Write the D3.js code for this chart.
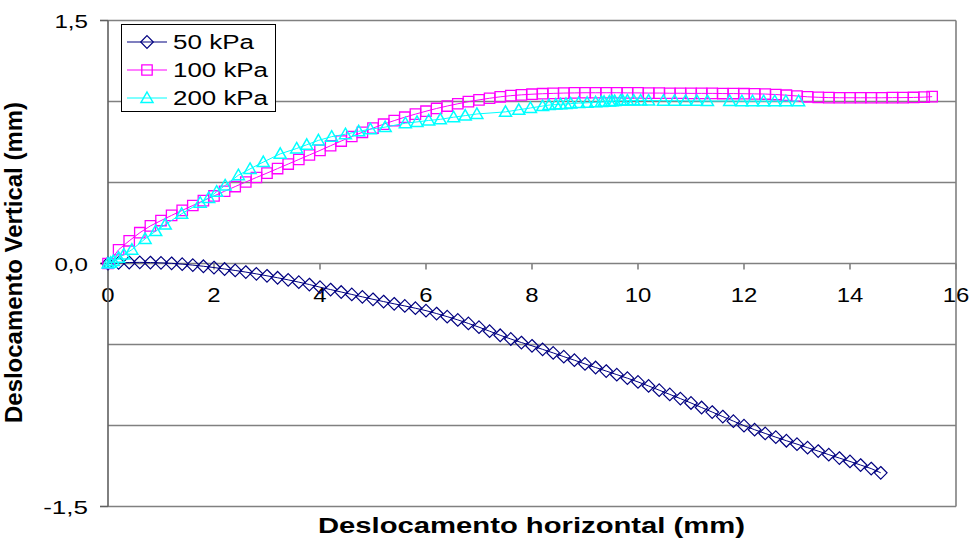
<!DOCTYPE html>
<html>
<head>
<meta charset="utf-8">
<script src="https://d3js.org/d3.v7.min.js"></script>
<style>
  body { margin:0; background:#fff; }
  text { font-family: "Liberation Sans", Arial, sans-serif; }
</style>
</head>
<body>
<div id="chart"></div>
<script>
// 50 kPa
var x50 = [0,0.2,0.4,0.6,0.8,1.0,1.2,1.4,1.6,1.8,2.0,2.2,2.4,2.6,2.8,3.0,3.2,3.4,3.6,3.8,
  4.0,4.2,4.4,4.6,4.8,5.0,5.2,5.4,5.6,5.8,6.0,6.2,6.4,6.6,6.8,7.0,7.2,7.4,7.6,7.8,
  8.0,8.2,8.4,8.6,8.8,9.0,9.2,9.4,9.6,9.8,10.0,10.2,10.4,10.6,10.8,11.0,11.2,11.4,11.6,11.8,
  12.0,12.2,12.4,12.6,12.8,13.0,13.2,13.4,13.6,13.8,14.0,14.2,14.4,14.58];
var y50 = [0,0.004,0.006,0.007,0.006,0.004,0.001,-0.004,-0.010,-0.017,-0.025,-0.034,-0.043,-0.053,-0.064,-0.076,-0.088,-0.101,-0.115,-0.130,
  -0.146,-0.161,-0.176,-0.191,-0.206,-0.221,-0.235,-0.249,-0.262,-0.276,-0.291,-0.309,-0.328,-0.348,-0.370,-0.393,-0.418,-0.443,-0.466,-0.488,
  -0.508,-0.530,-0.552,-0.575,-0.597,-0.620,-0.642,-0.664,-0.686,-0.708,-0.731,-0.756,-0.782,-0.808,-0.834,-0.861,-0.889,-0.917,-0.945,-0.973,
  -1.001,-1.026,-1.049,-1.072,-1.094,-1.115,-1.137,-1.158,-1.180,-1.201,-1.222,-1.244,-1.266,-1.292];

// 100 kPa
var x100 = [0,0.2,0.4,0.6,0.8,1.0,1.2,1.4,1.6,1.8,2.0,2.2,2.4,2.6,2.8,3.0,3.2,3.4,3.6,3.8,
  4.0,4.2,4.4,4.6,4.8,5.0,5.2,5.4,5.6,5.8,6.0,6.2,6.4,6.6,6.8,7.0,7.2,7.4,7.6,7.8,
  8.0,8.2,8.4,8.6,8.8,9.0,9.2,9.4,9.6,9.8,10.0,10.2,10.4,10.6,10.8,11.0,11.2,11.4,11.6,11.8,
  12.0,12.2,12.4,12.6,12.8,13.0,13.2,13.4,13.6,13.8,14.0,14.2,14.4,14.6,14.8,15.0,15.2,15.4,15.55];
var y100 = [0,0.085,0.14,0.19,0.232,0.265,0.297,0.328,0.358,0.388,0.417,0.446,0.475,0.503,0.531,0.558,0.586,0.614,0.642,0.67,
  0.698,0.727,0.756,0.784,0.81,0.836,0.86,0.882,0.903,0.922,0.94,0.957,0.972,0.986,0.999,1.01,1.02,1.029,1.036,1.041,
  1.045,1.048,1.05,1.052,1.053,1.054,1.054,1.054,1.054,1.053,1.053,1.052,1.052,1.051,1.051,1.05,1.05,1.05,1.049,1.049,
  1.048,1.047,1.046,1.043,1.039,1.034,1.029,1.026,1.024,1.023,1.023,1.023,1.023,1.023,1.024,1.024,1.025,1.027,1.03];

// 200 kPa
var x200 = [0,0.05,0.1,0.2,0.3,0.45,0.7,0.9,1.08,1.39,1.74,1.9,2.05,2.21,2.46,2.68,2.93,3.25,3.56,3.75,
  3.97,4.22,4.48,4.73,4.95,5.23,5.61,5.83,6.05,6.27,6.52,6.74,6.96,7.5,7.75,7.97,8.2,8.32,8.45,8.54,
  8.64,8.73,8.88,9.04,9.2,9.31,9.36,9.46,9.51,9.56,9.67,9.71,9.8,9.92,10.05,10.2,10.48,10.69,10.9,11.11,
  11.31,11.73,11.96,12.16,12.37,12.58,12.79,13.03];
var y200 = [0,0.005,0.015,0.035,0.055,0.085,0.152,0.2,0.24,0.307,0.375,0.405,0.443,0.482,0.545,0.584,0.626,0.677,0.71,0.733,
  0.76,0.783,0.798,0.816,0.829,0.842,0.866,0.874,0.883,0.89,0.903,0.913,0.923,0.936,0.949,0.96,0.972,0.978,0.981,0.983,
  0.985,0.987,0.99,0.992,0.995,0.997,0.998,1.0,1.002,1.003,1.005,1.005,1.006,1.006,1.006,1.006,1.005,1.005,1.004,1.004,
  1.003,1.003,1.002,1.002,1.002,1.002,1.002,1.002];

var seriesNames = ["50 kPa", "100 kPa", "200 kPa"];
var xTicks = [0,2,4,6,8,10,12,14,16];
var yTicks = [-1.5,0,1.5];
var yGrid = [-1.5,-1,-0.5,0.5,1,1.5];

var width = 973, height = 556;
var svg = d3.select("#chart").append("svg")
  .attr("width", width).attr("height", height);

var x = d3.scaleLinear().domain([0,16]).range([108,956]);
var y = d3.scaleLinear().domain([-1.5,1.5]).range([506.5,20.5]);

// grid lines
svg.selectAll(".grid").data(yGrid).enter().append("line")
  .attr("x1", x(0)).attr("x2", x(16))
  .attr("y1", d => y(d)).attr("y2", d => y(d))
  .attr("stroke", "#808080").attr("stroke-width", 1.6);

// right border
svg.append("line").attr("x1", x(16)).attr("x2", x(16))
  .attr("y1", y(1.5)).attr("y2", y(-1.5))
  .attr("stroke", "#808080").attr("stroke-width", 1.6);

// x axis at y=0
svg.append("line").attr("x1", x(0)).attr("x2", x(16))
  .attr("y1", y(0)).attr("y2", y(0))
  .attr("stroke", "#808080").attr("stroke-width", 1.6);
svg.selectAll(".xt").data(xTicks).enter().append("line")
  .attr("x1", d => x(d)).attr("x2", d => x(d))
  .attr("y1", y(0)).attr("y2", y(0) + 6)
  .attr("stroke", "#808080").attr("stroke-width", 1.6);
svg.selectAll(".xl").data(xTicks).enter().append("text")
  .attr("x", d => x(d)).attr("y", y(0) + 38)
  .attr("text-anchor", "middle")
  .attr("font-size", 19.5)
  .attr("textLength", d => String(d).length * 13.3)
  .attr("lengthAdjust", "spacingAndGlyphs")
  .text(d => d);

// y axis
svg.append("line").attr("x1", x(0)).attr("x2", x(0))
  .attr("y1", y(1.5)).attr("y2", y(-1.5))
  .attr("stroke", "#606060").attr("stroke-width", 1.6);
svg.selectAll(".yt").data(yTicks).enter().append("line")
  .attr("x1", x(0) - 8).attr("x2", x(0))
  .attr("y1", d => y(d)).attr("y2", d => y(d))
  .attr("stroke", "#606060").attr("stroke-width", 1.6);
var yFmt = d => d3.format(".1f")(d).replace(".", ",").replace("\u2212", "-");
svg.selectAll(".yl").data(yTicks).enter().append("text")
  .attr("x", 88).attr("y", d => y(d) + 7)
  .attr("text-anchor", "end")
  .attr("font-size", 19)
  .attr("textLength", d => yFmt(d).length * 11.2)
  .attr("lengthAdjust", "spacingAndGlyphs")
  .text(yFmt);

// axis titles
svg.append("text")
  .attr("x", 531.5).attr("y", 533)
  .attr("text-anchor", "middle")
  .attr("font-size", 22).attr("font-weight", "bold")
  .attr("textLength", 427).attr("lengthAdjust", "spacingAndGlyphs")
  .text("Deslocamento horizontal (mm)");
svg.append("text")
  .attr("transform", "translate(22,262.5) rotate(-90)")
  .attr("text-anchor", "middle")
  .attr("font-size", 23.5).attr("font-weight", "bold")
  .attr("textLength", 321).attr("lengthAdjust", "spacingAndGlyphs")
  .text("Deslocamento Vertical (mm)");

// markers
var diamond = "M0,-6.3L6.3,0L0,6.3L-6.3,0Z";
var square = "M-5.2,-5.2L5.2,-5.2L5.2,5.2L-5.2,5.2Z";
var triangle = "M0,-6L6,4.5L-6,4.5Z";

var series = [
  {name: seriesNames[0], xs: x50, ys: y50, color: "#000080", shape: diamond, sw: 1.2},
  {name: seriesNames[1], xs: x100, ys: y100, color: "#FF00FF", shape: square, sw: 1.3},
  {name: seriesNames[2], xs: x200, ys: y200, color: "#00FFFF", shape: triangle, sw: 1.5}
];

var line = d3.line().x(d => x(d[0])).y(d => y(d[1]));

series.forEach(function(s) {
  var pts = d3.zip(s.xs, s.ys);
  var g = svg.append("g");
  g.append("path").datum(pts)
    .attr("d", line)
    .attr("fill", "none")
    .attr("stroke", s.color).attr("stroke-width", 1);
  g.selectAll("path.m").data(pts).enter().append("path")
    .attr("class", "m")
    .attr("d", s.shape)
    .attr("transform", d => "translate(" + x(d[0]) + "," + y(d[1]) + ")")
    .attr("fill", "none")
    .attr("stroke", s.color).attr("stroke-width", s.sw);
});

// legend
var lg = svg.append("g");
lg.append("rect").attr("x", 121.5).attr("y", 24.5).attr("width", 154).attr("height", 87)
  .attr("fill", "#fff").attr("stroke", "#000").attr("stroke-width", 1);
var rowY = [42, 70, 98];
var textW = [81, 95, 95];
series.forEach(function(s, i) {
  lg.append("line").attr("x1", 127).attr("x2", 167)
    .attr("y1", rowY[i]).attr("y2", rowY[i])
    .attr("stroke", s.color).attr("stroke-width", 1.2);
  lg.append("path").attr("d", s.shape)
    .attr("transform", "translate(147," + rowY[i] + ")")
    .attr("fill", "none").attr("stroke", s.color).attr("stroke-width", s.sw);
  lg.append("text").attr("x", 173).attr("y", rowY[i] + 7)
    .attr("font-size", 20)
    .attr("textLength", textW[i]).attr("lengthAdjust", "spacingAndGlyphs")
    .text(s.name);
});
</script>
</body>
</html>
